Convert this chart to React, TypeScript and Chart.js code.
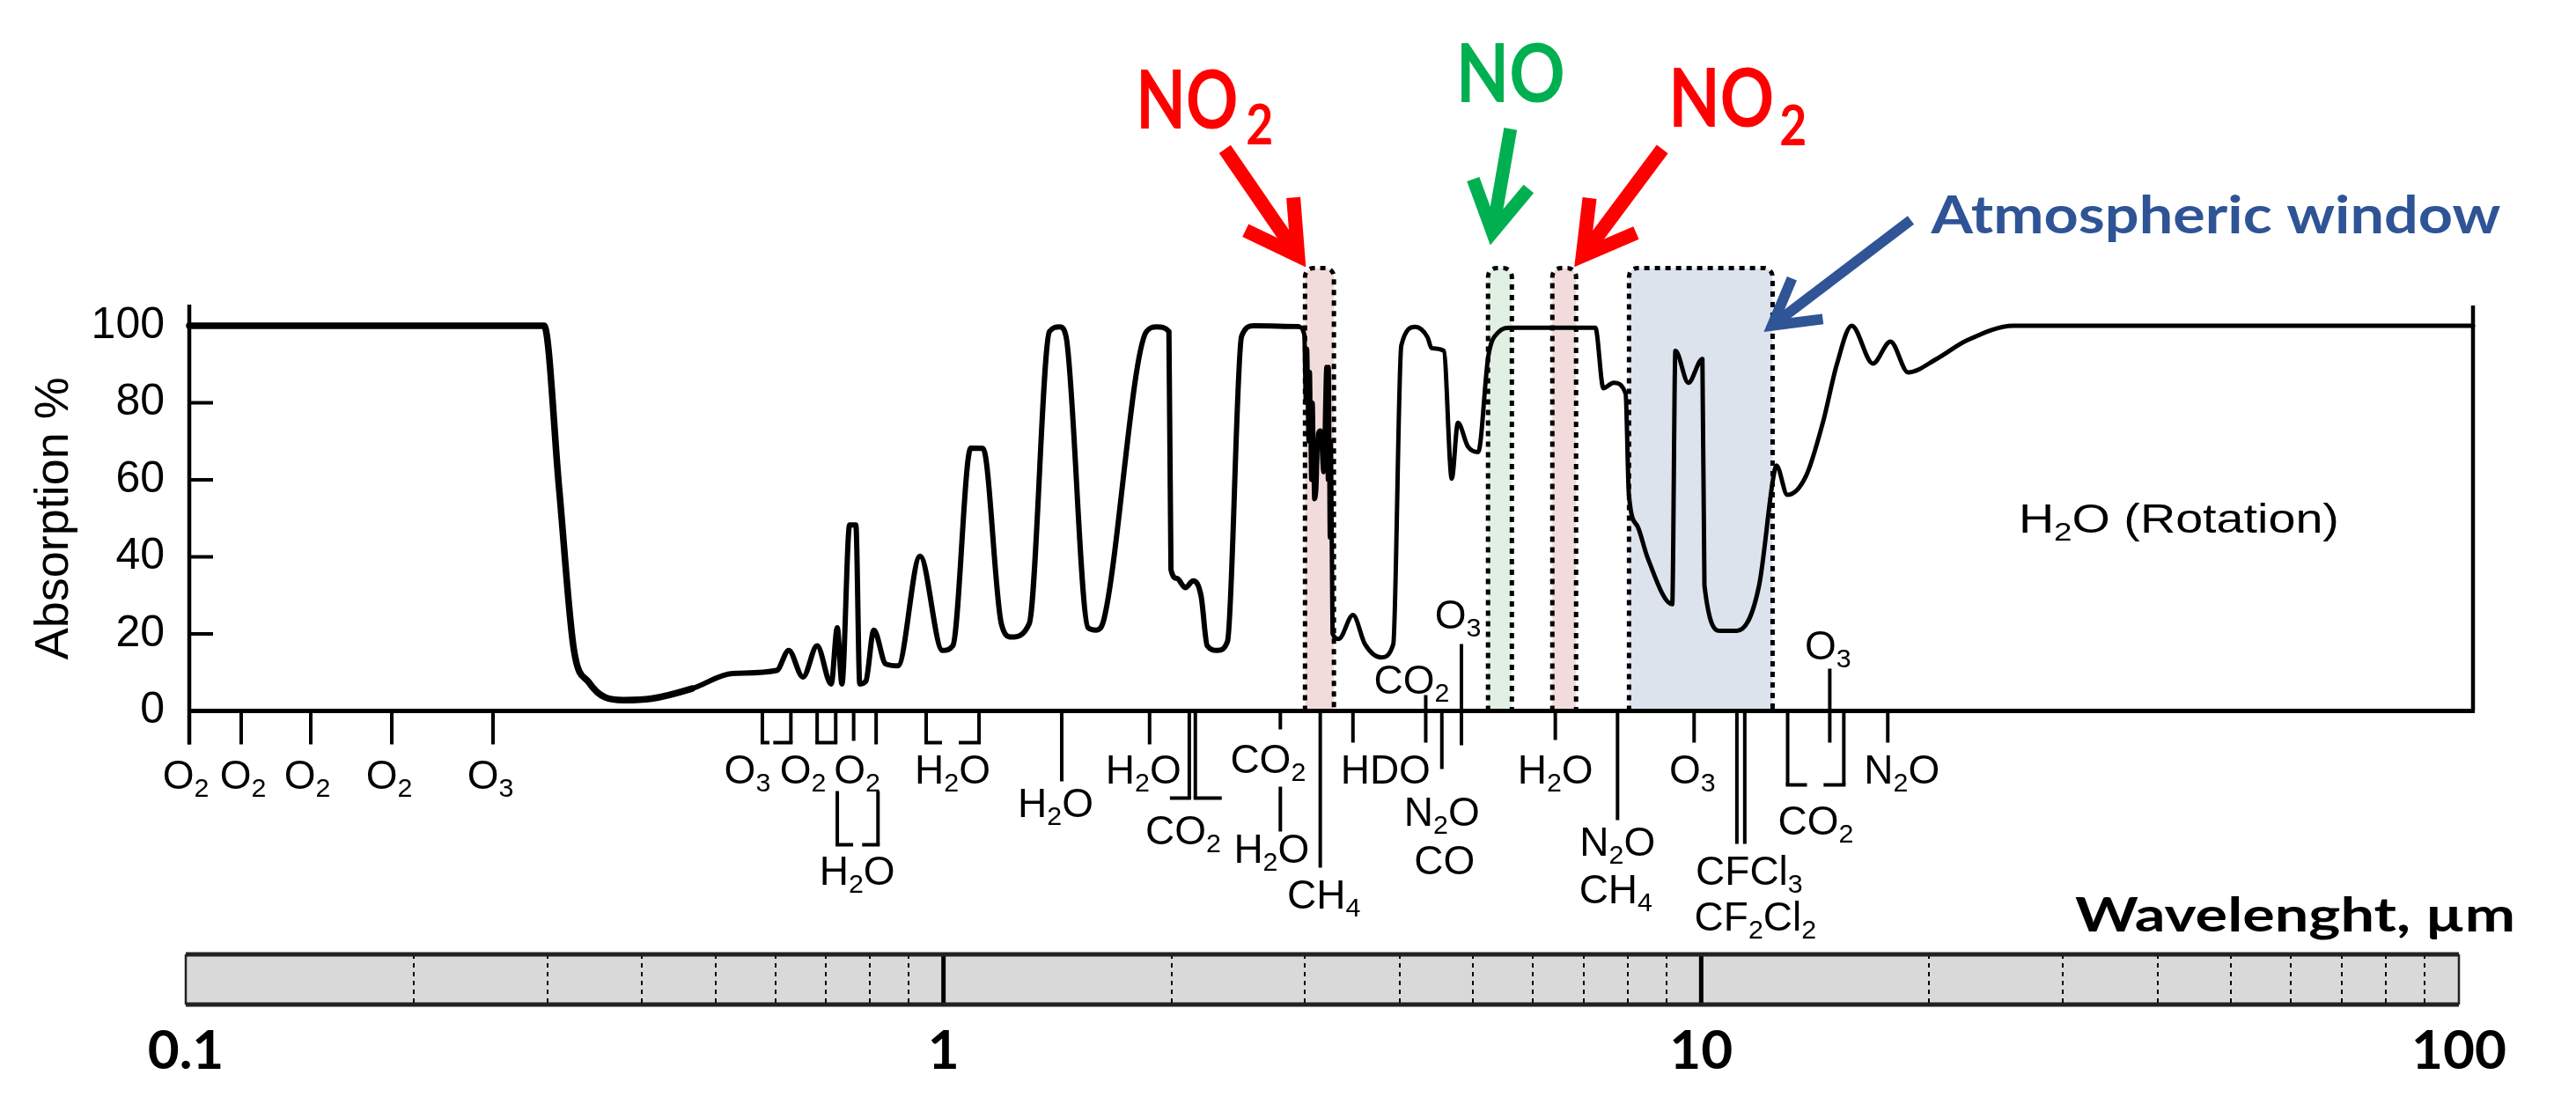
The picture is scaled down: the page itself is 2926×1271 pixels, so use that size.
import React, { useEffect, useRef } from 'react';
import { Chart, registerables } from 'chart.js';

Chart.register(...registerables);

// ---------------- data ----------------
const WAVELENGTH_UM = [
  0.1, 0.2925, 0.306, 0.32, 0.335, 0.352, 0.372, 0.405, 0.4575, 0.517, 0.591,
  0.613, 0.64, 0.668, 0.697, 0.71, 0.72, 0.737, 0.751, 0.76, 0.774, 0.793, 0.822,
  0.853, 0.912, 0.976, 1.007, 1.063, 1.103, 1.166, 1.202, 1.269, 1.349, 1.391,
  1.418, 1.516, 1.554, 1.591, 1.809, 1.866, 1.936, 1.948, 1.984, 2.034, 2.084,
  2.134, 2.174, 2.242, 2.311, 2.412, 2.503, 2.862, 2.916, 2.93, 2.94, 2.955,
  2.965, 2.978, 2.99, 3.005, 3.024, 3.04, 3.062, 3.09, 3.118, 3.132, 3.139,
  3.15, 3.16, 3.176, 3.236, 3.378, 3.504, 3.679, 3.816,
  3.91, 4.08, 4.233, 4.285, 4.446, 4.555, 4.64, 4.784, 4.933, 5.087, 5.244,
  5.44, 7.032, 7.206, 7.43, 7.706, 7.783, 7.99, 8.245, 8.873, 8.959, 9.317,
  9.721, 9.781, 10.27, 10.79, 11.54, 12.04, 12.16, 12.57, 13.3, 14.0, 14.6,
  15.27, 16.28, 17.17, 18.11, 19.78, 21.59, 24.93, 100,
];
const ABSORPTION_PCT = [
  100, 100, 58, 16, 7.4, 3.5, 2.8, 3.2, 5.8, 9.7, 10.5,
  15.7, 8.8, 16.9, 7, 21.6, 7, 48.3, 48.3, 7, 7.7, 21, 12.2,
  11.7, 40.2, 15.7, 16.9, 68.2, 68.2, 22.7, 19.2, 22.7, 98.5, 99.7,
  97.3, 21.6, 21, 23.9, 98.5, 99.7, 98.5, 36.7, 34.4, 32, 33.8,
  29.8, 16.9, 15.7, 18, 97.3, 100, 99.8, 97.7, 80, 94, 70,
  88, 60, 80, 55, 58, 72, 72.8, 62, 89.3, 60, 89.3,
  45, 70, 20.1, 18.7, 24.9, 17.3, 13.9, 17.3,
  94.9, 99.7, 97, 94.2, 93.5, 60.3, 74.8, 68.6, 67.2, 92.1, 98.3,
  99.5, 99.5, 83.8, 85.2, 82.4, 56.1, 47.9, 39.5, 27.7, 93.5, 85.2,
  91.4, 32.6, 20.8, 20.8, 32.6, 60.3, 63.7, 56.1, 61, 75, 90,
  100, 90.2, 95.9, 87.9, 91.5, 96.1, 100, 100,
];

const Y_TICK_VALUES = [0, 20, 40, 60, 80, 100];
const Y_INNER_TICKS = [20, 40, 60, 80];
const BAR_LABEL_TICKS = [0.1, 1, 10, 100];
const BAR_MINOR_TICKS = [0.2, 0.3, 0.4, 0.5, 0.6, 0.7, 0.8, 0.9, 2, 3, 4, 5, 6, 7, 8, 9, 20, 30, 40, 50, 60, 70, 80, 90];
const BAR_MAJOR_TICKS = [1, 10];

// highlighted bands (µm)
const BAND_LABELS = ['NO₂', 'NO', 'NO₂', 'Atmospheric window'];
const BAND_FROM_UM = [2.922, 5.083, 6.174, 7.786];
const BAND_TO_UM = [3.189, 5.463, 6.634, 12.02];
const BAND_TOP_PCT = 115;
const ROTATION_LABEL = 'H₂O (Rotation)';
const ROTATION_AT = { um: 25.3, pct: 50 };

// molecule band markers: wavelength (µm) + label
type Mark =
  | { t: 'v'; at: number; y1: number; y2: number }
  | { t: 'h'; at: number; dx1: number; dx2: number; y: number }
  | { t: 's'; at: number; dx: number; dy: number; s: string };

const MARKS: Mark[] = [
  { t: 'v', at: 0.1, y1: 0, y2: 38 }, { t: 's', at: 0.1, dx: -4, dy: 72, s: 'O₂' },
  { t: 'v', at: 0.117, y1: 0, y2: 38 }, { t: 's', at: 0.117, dx: 2, dy: 72, s: 'O₂' },
  { t: 'v', at: 0.1444, y1: 0, y2: 38 }, { t: 's', at: 0.1444, dx: -4, dy: 72, s: 'O₂' },
  { t: 'v', at: 0.1845, y1: 0, y2: 38 }, { t: 's', at: 0.1845, dx: -3, dy: 72, s: 'O₂' },
  { t: 'v', at: 0.2506, y1: 0, y2: 38 }, { t: 's', at: 0.2506, dx: -3, dy: 72, s: 'O₃' },
  { t: 'v', at: 0.566, y1: 0, y2: 36 }, { t: 'h', at: 0.566, dx1: 0, dx2: 6, y: 36 },
  { t: 'v', at: 0.617, y1: 0, y2: 36 }, { t: 'h', at: 0.617, dx1: -18, dx2: 0, y: 36 },
  { t: 's', at: 0.566, dx: -17, dy: 66, s: 'O₃' },
  { t: 'v', at: 0.668, y1: 0, y2: 36 }, { t: 'v', at: 0.7066, y1: 0, y2: 36 },
  { t: 'h', at: 0.668, dx1: 0, dx2: 21, y: 36 }, { t: 's', at: 0.668, dx: -16, dy: 66, s: 'O₂' },
  { t: 'v', at: 0.746, y1: 0, y2: 34 }, { t: 'v', at: 0.7985, y1: 0, y2: 38 },
  { t: 's', at: 0.746, dx: 4, dy: 66, s: 'O₂' },
  { t: 'v', at: 0.71, y1: 91, y2: 152 }, { t: 'h', at: 0.71, dx1: 0, dx2: 16, y: 152 },
  { t: 'v', at: 0.803, y1: 91, y2: 152 }, { t: 'h', at: 0.803, dx1: -16, dx2: 0, y: 152 },
  { t: 's', at: 0.746, dx: 4, dy: 181, s: 'H₂O' },
  { t: 'v', at: 0.929, y1: 0, y2: 36 }, { t: 'h', at: 0.929, dx1: 0, dx2: 16, y: 36 },
  { t: 'v', at: 1.09, y1: 0, y2: 36 }, { t: 'h', at: 1.09, dx1: -21, dx2: 0, y: 36 },
  { t: 's', at: 0.929, dx: 30, dy: 66, s: 'H₂O' },
  { t: 'v', at: 1.4, y1: 0, y2: 80 }, { t: 's', at: 1.4, dx: -7, dy: 104, s: 'H₂O' },
  { t: 'v', at: 1.826, y1: 0, y2: 38 }, { t: 's', at: 1.826, dx: -7, dy: 66, s: 'H₂O' },
  { t: 'v', at: 2.059, y1: 0, y2: 99 }, { t: 'h', at: 2.059, dx1: -20, dx2: 0, y: 99 },
  { t: 'v', at: 2.097, y1: 0, y2: 99 }, { t: 'h', at: 2.097, dx1: 0, dx2: 28, y: 99 },
  { t: 's', at: 2.059, dx: -7, dy: 135, s: 'CO₂' },
  { t: 'v', at: 2.712, y1: 0, y2: 21 }, { t: 's', at: 2.712, dx: -14, dy: 54, s: 'CO₂' },
  { t: 'v', at: 2.712, y1: 86, y2: 137 }, { t: 's', at: 2.712, dx: -10, dy: 156, s: 'H₂O' },
  { t: 'v', at: 3.06, y1: 0, y2: 178 }, { t: 's', at: 3.06, dx: 4, dy: 208, s: 'CH₄' },
  { t: 'v', at: 3.378, y1: 0, y2: 36 }, { t: 's', at: 3.378, dx: 37, dy: 66, s: 'HDO' },
  { t: 'v', at: 4.21, y1: -18, y2: 36 }, { t: 's', at: 4.21, dx: -16, dy: -36, s: 'CO₂' },
  { t: 'v', at: 4.42, y1: 0, y2: 66 }, { t: 's', at: 4.42, dx: 0, dy: 114, s: 'N₂O' },
  { t: 's', at: 4.42, dx: 3, dy: 169, s: 'CO' },
  { t: 'v', at: 4.69, y1: -76, y2: 39 }, { t: 's', at: 4.69, dx: -4, dy: -110, s: 'O₃' },
  { t: 'v', at: 6.23, y1: 0, y2: 33 }, { t: 's', at: 6.23, dx: 0, dy: 66, s: 'H₂O' },
  { t: 'v', at: 7.52, y1: 0, y2: 124 }, { t: 's', at: 7.52, dx: 0, dy: 148, s: 'N₂O' },
  { t: 's', at: 7.52, dx: -2, dy: 202, s: 'CH₄' },
  { t: 'v', at: 9.48, y1: 0, y2: 36 }, { t: 's', at: 9.48, dx: -2, dy: 66, s: 'O₃' },
  { t: 'v', at: 10.79, y1: 0, y2: 151 }, { t: 'v', at: 11.05, y1: 0, y2: 151 },
  { t: 's', at: 10.79, dx: 14, dy: 181, s: 'CFCl₃' }, { t: 's', at: 10.79, dx: 21, dy: 233, s: 'CF₂Cl₂' },
  { t: 'v', at: 12.58, y1: 0, y2: 84 }, { t: 'h', at: 12.58, dx1: 0, dx2: 20, y: 84 },
  { t: 'v', at: 14.91, y1: 0, y2: 84 }, { t: 'h', at: 14.91, dx1: -21, dx2: 0, y: 84 },
  { t: 's', at: 12.58, dx: 32, dy: 124, s: 'CO₂' },
  { t: 'v', at: 14.29, y1: -48, y2: 36 }, { t: 's', at: 14.29, dx: -2, dy: -75, s: 'O₃' },
  { t: 'v', at: 17.03, y1: 0, y2: 36 }, { t: 's', at: 17.03, dx: 16, dy: 66, s: 'N₂O' },
];

// ---------------- styles ----------------
const W = 2926;
const H = 1271;
const SANS = '"Liberation Sans", Arial, sans-serif';
const CAL = 'Lato, "Open Sans", sans-serif';
const RED = '#FF0000';
const GREEN = '#00B050';
const BLUE = '#2F5597';
const BAND_FILLS = ['rgb(242,220,219)', 'rgb(226,240,228)', 'rgb(242,220,219)', 'rgb(220,227,237)'];
const LABEL_SIZE = 46;

const SUB_MAP: Record<string, string> = {
  '₀': '0', '₁': '1', '₂': '2', '₃': '3', '₄': '4', '₅': '5', '₆': '6', '₇': '7', '₈': '8', '₉': '9',
};

function drawChem(
  ctx: CanvasRenderingContext2D, s: string, x: number, cy: number, size: number,
  opts: { family?: string; weight?: string; color?: string; width?: number; align?: string } = {},
) {
  const fam = opts.family ?? SANS;
  const wt = opts.weight ?? 'normal';
  const main = `${wt} ${size}px ${fam}`;
  const subSize = size * 0.66;
  const sub = `${wt} ${subSize}px ${fam}`;
  const runs: { t: string; sub: boolean }[] = [];
  for (const ch of s) {
    const isSub = ch in SUB_MAP;
    const t = isSub ? SUB_MAP[ch] : ch;
    const last = runs[runs.length - 1];
    if (last && last.sub === isSub) last.t += t;
    else runs.push({ t, sub: isSub });
  }
  ctx.save();
  let total = 0;
  const widths = runs.map((r) => {
    ctx.font = r.sub ? sub : main;
    const m = ctx.measureText(r.t).width;
    total += m;
    return m;
  });
  const k = opts.width ? opts.width / total : 1;
  const align = opts.align ?? 'center';
  const dw = total * k;
  const x0 = align === 'center' ? x - dw / 2 : align === 'left' ? x : x - dw;
  const base = cy + (size * 0.716) / 2;
  ctx.translate(x0, base);
  ctx.scale(k, 1);
  ctx.fillStyle = opts.color ?? '#000';
  ctx.textAlign = 'left';
  ctx.textBaseline = 'alphabetic';
  let cx = 0;
  runs.forEach((r, i) => {
    ctx.font = r.sub ? sub : main;
    ctx.fillText(r.t, cx, r.sub ? size * 0.2 : 0);
    cx += widths[i];
  });
  ctx.restore();
}

function fitText(
  ctx: CanvasRenderingContext2D, text: string, left: number, baseline: number,
  font: string, color: string, width: number,
) {
  ctx.save();
  ctx.font = font;
  ctx.fillStyle = color;
  ctx.textAlign = 'left';
  ctx.textBaseline = 'alphabetic';
  const m = ctx.measureText(text).width;
  ctx.translate(left, baseline);
  ctx.scale(width / m, 1);
  ctx.fillText(text, 0, 0);
  ctx.restore();
}

function arrow(
  ctx: CanvasRenderingContext2D, tx: number, ty: number, hx: number, hy: number,
  w: number, color: string, headLen: number,
) {
  const ang = Math.atan2(hy - ty, hx - tx);
  const ex = hx - Math.cos(ang) * w;
  const ey = hy - Math.sin(ang) * w;
  ctx.save();
  ctx.strokeStyle = color;
  ctx.lineWidth = w;
  ctx.lineCap = 'butt';
  ctx.lineJoin = 'miter';
  ctx.miterLimit = 10;
  ctx.beginPath();
  ctx.moveTo(tx, ty);
  ctx.lineTo(ex - Math.cos(ang) * 4, ey - Math.sin(ang) * 4);
  ctx.stroke();
  const a = Math.PI / 6;
  ctx.beginPath();
  ctx.moveTo(ex - headLen * Math.cos(ang - a), ey - headLen * Math.sin(ang - a));
  ctx.lineTo(ex, ey);
  ctx.lineTo(ex - headLen * Math.cos(ang + a), ey - headLen * Math.sin(ang + a));
  ctx.stroke();
  ctx.restore();
}

function bandBox(chart: any, i: number) {
  const xs = chart.scales.x;
  const ys = chart.scales.y;
  return {
    left: xs.getPixelForValue(BAND_FROM_UM[i]),
    right: xs.getPixelForValue(BAND_TO_UM[i]),
    top: ys.getPixelForValue(BAND_TOP_PCT),
    bottom: ys.getPixelForValue(0),
  };
}

const bandsPlugin = {
  id: 'bands',
  beforeDatasetsDraw(chart: any) {
    const ctx = chart.ctx as CanvasRenderingContext2D;
    BAND_FROM_UM.forEach((_, i) => {
      const b = bandBox(chart, i);
      const r = 10;
      const path = () => {
        ctx.beginPath();
        ctx.moveTo(b.left, b.bottom);
        ctx.lineTo(b.left, b.top + r);
        ctx.arcTo(b.left, b.top, b.left + r, b.top, r);
        ctx.lineTo(b.right - r, b.top);
        ctx.arcTo(b.right, b.top, b.right, b.top + r, r);
        ctx.lineTo(b.right, b.bottom);
      };
      ctx.save();
      path();
      ctx.closePath();
      ctx.fillStyle = BAND_FILLS[i];
      ctx.fill();
      path();
      ctx.setLineDash([6, 6]);
      ctx.lineWidth = 5;
      ctx.strokeStyle = '#000';
      ctx.stroke();
      ctx.restore();
    });
  },
};

const annotPlugin = {
  id: 'annot',
  afterDatasetsDraw(chart: any) {
    const ctx = chart.ctx as CanvasRenderingContext2D;
    const xs = chart.scales.x;
    const ys = chart.scales.y;
    const area = chart.chartArea;
    const y0 = ys.getPixelForValue(0);
    ctx.save();
    ctx.strokeStyle = '#000';
    ctx.lineCap = 'butt';
    // frame
    ctx.lineWidth = 4.5;
    ctx.beginPath();
    ctx.moveTo(area.left, area.top - 24);
    ctx.lineTo(area.left, y0 + 38);
    ctx.stroke();
    ctx.lineWidth = 5;
    ctx.beginPath();
    ctx.moveTo(area.left - 2, y0);
    ctx.lineTo(area.right + 2, y0);
    ctx.stroke();
    ctx.lineWidth = 4.5;
    ctx.beginPath();
    ctx.moveTo(area.right, area.top - 23);
    ctx.lineTo(area.right, y0);
    ctx.stroke();
    ctx.lineWidth = 4;
    Y_INNER_TICKS.forEach((v) => {
      const y = ys.getPixelForValue(v);
      ctx.beginPath();
      ctx.moveTo(area.left, y);
      ctx.lineTo(area.left + 27, y);
      ctx.stroke();
    });
    // molecule markers
    ctx.lineWidth = 4;
    MARKS.forEach((m) => {
      const x = xs.getPixelForValue(m.at);
      if (m.t === 'v') {
        ctx.beginPath();
        ctx.moveTo(x, y0 + m.y1);
        ctx.lineTo(x, y0 + m.y2);
        ctx.stroke();
      } else if (m.t === 'h') {
        ctx.beginPath();
        ctx.moveTo(x + m.dx1 - 2, y0 + m.y);
        ctx.lineTo(x + m.dx2 + 2, y0 + m.y);
        ctx.stroke();
      } else {
        drawChem(ctx, m.s, x + m.dx, y0 + m.dy, LABEL_SIZE);
      }
    });
    ctx.restore();

    // H2O (Rotation)
    drawChem(ctx, ROTATION_LABEL, xs.getPixelForValue(ROTATION_AT.um), ys.getPixelForValue(ROTATION_AT.pct), 46, {
      align: 'left', width: 364,
    });

    // callouts
    const b0 = bandBox(chart, 0);
    const b1 = bandBox(chart, 1);
    const b2 = bandBox(chart, 2);
    const b3 = bandBox(chart, 3);
    const big = `bold 91px ${CAL}`;
    const subF = `bold 63px ${CAL}`;

    // left NO2
    let tx = b0.left + 1, ty = b0.top - 1;
    arrow(ctx, tx - 92, ty - 134, tx, ty, 16, RED, 66);
    fitText(ctx, 'NO', tx - 193, ty - 157, big, RED, 116);
    fitText(ctx, '2', tx - 68, ty - 139, subF, RED, 31);

    // NO
    tx = (b1.left + b1.right) / 2 - 11; ty = b1.top - 26;
    arrow(ctx, tx + 23, ty - 132, tx, ty, 15, GREEN, 64);
    fitText(ctx, 'NO', tx - 39, ty - 162, big, GREEN, 124);

    // right NO2
    tx = b2.right - 2; ty = b2.top - 1;
    arrow(ctx, tx + 100, ty - 134, tx, ty, 16, RED, 66);
    fitText(ctx, 'NO', tx + 107, ty - 159, big, RED, 120);
    fitText(ctx, '2', tx + 233, ty - 138, subF, RED, 31);

    // atmospheric window
    tx = b3.right - 10; ty = ys.getPixelForValue(98.4);
    arrow(ctx, tx + 167, ty - 127, tx, ty, 12, BLUE, 58);
    fitText(ctx, BAND_LABELS[3], tx + 190, ty - 112, `bold 60px ${CAL}`, '#2F5496', 647);
  },
};

const barPlugin = {
  id: 'barDecor',
  beforeDatasetsDraw(chart: any) {
    const ctx = chart.ctx as CanvasRenderingContext2D;
    const a = chart.chartArea;
    ctx.save();
    ctx.fillStyle = '#D9D9D9';
    ctx.fillRect(a.left, a.top, a.right - a.left, a.bottom - a.top);
    ctx.restore();
  },
  afterDraw(chart: any) {
    const ctx = chart.ctx as CanvasRenderingContext2D;
    const a = chart.chartArea;
    const xs = chart.scales.x;
    ctx.save();
    ctx.strokeStyle = '#000';
    ctx.lineWidth = 2;
    ctx.setLineDash([5, 5]);
    BAR_MINOR_TICKS.forEach((v) => {
      const x = Math.round(xs.getPixelForValue(v));
      ctx.beginPath();
      ctx.moveTo(x, a.top);
      ctx.lineTo(x, a.bottom);
      ctx.stroke();
    });
    ctx.setLineDash([]);
    ctx.lineWidth = 5;
    BAR_MAJOR_TICKS.forEach((v) => {
      const x = xs.getPixelForValue(v);
      ctx.beginPath();
      ctx.moveTo(x, a.top);
      ctx.lineTo(x, a.bottom);
      ctx.stroke();
    });
    ctx.lineWidth = 5;
    ctx.strokeStyle = '#222';
    ctx.beginPath();
    ctx.moveTo(a.left, a.top);
    ctx.lineTo(a.right, a.top);
    ctx.moveTo(a.left, a.bottom);
    ctx.lineTo(a.right, a.bottom);
    ctx.stroke();
    ctx.lineWidth = 2.5;
    ctx.beginPath();
    ctx.moveTo(a.left, a.top);
    ctx.lineTo(a.left, a.bottom);
    ctx.moveTo(a.right, a.top);
    ctx.lineTo(a.right, a.bottom);
    ctx.stroke();
    ctx.restore();
    fitText(ctx, 'Wavelenght, µm', a.right - 436, a.top - 26, `bold 53px ${CAL}`, '#000', 500);
  },
};

export default function App() {
  const mainRef = useRef<HTMLCanvasElement | null>(null);
  const barRef = useRef<HTMLCanvasElement | null>(null);

  useEffect(() => {
    document.body.style.margin = '0';
    const points = WAVELENGTH_UM.map((x, i) => ({ x, y: ABSORPTION_PCT[i] }));
    const main = new Chart(mainRef.current as HTMLCanvasElement, {
      type: 'line',
      data: {
        datasets: [
          {
            data: points,
            borderColor: '#000',
            borderWidth: 5,
            pointRadius: 0,
            cubicInterpolationMode: 'monotone',
            borderJoinStyle: 'round',
            borderCapStyle: 'round',
            clip: false,
            segment: {
              borderWidth: (c: any) => {
                const l = WAVELENGTH_UM[c.p0DataIndex];
                return l < 0.45 ? 7.5 : l < 2.6 ? 6 : 5;
              },
            },
          } as any,
        ],
      },
      options: {
        responsive: false,
        animation: false,
        devicePixelRatio: 1,
        events: [],
        layout: { padding: { left: 0, top: 370, right: 117, bottom: 463.5 } },
        plugins: { legend: { display: false }, tooltip: { enabled: false } },
        scales: {
          x: { type: 'logarithmic', min: 0.1, max: 100, display: false },
          y: {
            type: 'linear',
            min: 0,
            max: 100,
            afterFit: (s: any) => { s.width = 215; },
            afterBuildTicks: (s: any) => { s.ticks = Y_TICK_VALUES.map((v) => ({ value: v })); },
            grid: { display: false },
            border: { display: false },
            ticks: { padding: 20, color: '#000', font: { family: SANS, size: 50 } },
            title: {
              display: true,
              text: 'Absorption %',
              color: '#000',
              font: { family: SANS, size: 54 },
              padding: { top: 30, bottom: 0 },
            },
          },
        },
      } as any,
      plugins: [bandsPlugin, annotPlugin],
    });

    const bar = new Chart(barRef.current as HTMLCanvasElement, {
      type: 'scatter',
      data: { datasets: [{ data: [] }] },
      options: {
        responsive: false,
        animation: false,
        devicePixelRatio: 1,
        events: [],
        layout: { padding: { left: 211, right: 133, top: 1084, bottom: 0 } },
        plugins: { legend: { display: false }, tooltip: { enabled: false } },
        scales: {
          x: {
            type: 'logarithmic',
            min: 0.1,
            max: 100,
            position: 'bottom',
            afterFit: (s: any) => { s.height = 130; },
            afterBuildTicks: (s: any) => { s.ticks = BAR_LABEL_TICKS.map((v) => ({ value: v })); },
            grid: { display: false },
            border: { display: false },
            ticks: {
              autoSkip: false,
              maxRotation: 0,
              padding: 8,
              color: '#000',
              font: { family: CAL, size: 62, weight: 'bold' },
              callback: (v: any) => String(v),
            },
          },
          y: { display: false, min: 0, max: 1 },
        },
      } as any,
      plugins: [barPlugin],
    });

    return () => {
      main.destroy();
      bar.destroy();
    };
  }, []);

  const canvasStyle: React.CSSProperties = { position: 'absolute', left: 0, top: 0, width: W, height: H };
  return (
    <div style={{ position: 'fixed', left: 0, top: 0, width: W, height: H, background: '#fff', overflow: 'hidden' }}>
      <canvas ref={mainRef} width={W} height={H} style={canvasStyle} />
      <canvas ref={barRef} width={W} height={H} style={canvasStyle} />
    </div>
  );
}
